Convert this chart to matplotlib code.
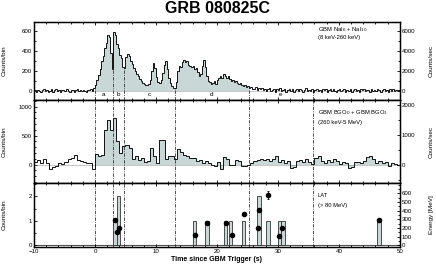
import numpy as np
import matplotlib
matplotlib.use("Agg")
import matplotlib.pyplot as plt
from matplotlib.ticker import MultipleLocator, FixedLocator

plt.rcParams["font.family"] = ["Liberation Sans", "DejaVu Sans"]

FILL = "#c9d8d6"
LINE = "#111111"
VLINE_STYLE = (0, (4, 1.5, 1, 1.5))

# interval boundaries (s) and their letters
bounds = [0.0, 2.9, 4.8, 13.1, 25.2, 35.7]
interval_names = ["a", "b", "c", "d", "e"]

# GBM NaI, 0.25 s bins from -10 s to 50 s (counts/bin)
nai_bin = 0.25
nai_pre = [5, -10, 12, 0, -15, 8, 20, -5, 10, -12,
           3, 15, -8, 6, 22, -3, 9, -14, 4, 11,
           -6, 18, 2, -9, 7, 13, -11, 5, 16, -4,
           8, -7, 12, 1, -13, 10, 4, 17, -2, 30]
nai_burst = [60, 110, 160, 220, 300, 350, 430, 480,
             560, 540, 380, 220, 590, 560, 470, 430,
             360, 330, 240, 230, 340, 370, 350, 300,
             270, 230, 200, 170, 150, 120, 100, 80,
             70, 60, 55, 70, 110, 200, 280, 230,
             140, 90, 75, 110, 180, 260, 300, 220,
             130, 80, 50, 30, 25, 90, 200, 250,
             240, 290, 310, 290, 300, 260, 250, 240,
             250, 220, 230, 190, 150, 170, 250, 310,
             240, 150, 100, 90, 70, 80, 100, 70,
             110, 130, 150, 130, 170, 150, 130, 150,
             120, 100, 110, 90, 100, 80, 70, 80,
             60, 50, 60, 40, 50, 30, 40, 20]
nai_post = [20, 35, 10, 25, 15, 30, 5, 20, -5, 15, 25, 0, 10, 20, -10, 15, 5, 25, -5, 10,
            18, -8, 12, 22, 0, 14, -12, 8, 20, -4, 16, 6, -10, 12, 24, -6, 10, 2, 18, -14,
            6, 20, -2, 12, -8, 16, 4, 22, -10, 8, 14, -4, 20, 0, -12, 10, 18, -6, 6, 14,
            -10, 12, 2, 20, -8, 8, 16, -2, 10, -14, 14, 4, 22, -6, 6, 12, -10, 18, 0, 8,
            -4, 16, 6, -12, 12, 20, -2, 8, -8, 14, 2, 18, -6, 10, 4, 12]

# GBM BGO, 0.5 s bins from -10 s to 50 s (counts/bin)
bgo_bin = 0.5
bgo_pre = [50, 70, 30, 90, 20, -70, -50, -30, 20, 10,
           40, 100, 110, 170, 80, 60, 40, 20, 30, -80]
bgo_burst = [190, 150, 160, 600, 770, 600, 810, 400, 200, 320,
             340, 280, 90, 140, 70, 110, 40, 60, 280, 150,
             30, 420, 420, 90, 150, 150, 90, 265, 210, 160,
             145, 115, 115, 60, 70, 30, 60, 20]
bgo_mid = [0, -30, 40, -80, 130, 90, 0, -10, 80, 60, -30, -20, 0, 20]
bgo_tail = [60, 80, 90, 70, 100, 60, 90, 140, 50, 80,
            20, 60, -60, -40, 60, 80, 50, 100, 40, 10,
            120, 140, 60, 30, 80, 40, 90, 60, 10, 50,
            30, -60, -40, 40, 50, 20, 60, 130, 140, 90,
            30, 60, 20, 40, -20, 30, 10, -10]

# LAT counts per bin and photon energies
lat_width = 0.55
lat_bin_start = [3.0, 3.55, 16.1, 18.1, 21.1, 22.0, 24.1, 26.6, 28.1, 30.0, 30.55, 46.3]
lat_counts = [1, 2, 1, 1, 1, 1, 1, 2, 1, 1, 1, 1]
lat_t = [3.33, 3.55, 3.98, 16.4, 18.3, 21.5, 22.45, 24.5, 26.7, 26.9, 28.4, 30.25, 30.7, 46.6]
lat_e = [298, 155, 205, 124, 257, 253, 122, 365, 195, 403, 578, 108, 199, 290]
lat_err = [12, 8, 10, 6, 12, 12, 6, 18, 10, 20, 45, 5, 10, 14]

nai = np.array(nai_pre + nai_burst + nai_post, dtype=float)
nai_edges = -10 + nai_bin * np.arange(len(nai) + 1)
bgo = np.array(bgo_pre + bgo_burst + bgo_mid + bgo_tail, dtype=float)
bgo_edges = -10 + bgo_bin * np.arange(len(bgo) + 1)

fig = plt.figure(figsize=(4.36, 2.66), dpi=100)
ax1 = fig.add_axes([0.078, 0.624, 0.839, 0.293])
ax2 = fig.add_axes([0.078, 0.312, 0.839, 0.312], sharex=ax1)
ax3 = fig.add_axes([0.078, 0.071, 0.839, 0.241], sharex=ax1)

TICK_FS = 4.4
LABEL_FS = 4.6


def style(ax, ylim, major, minor):
    ax.set_ylim(*ylim)
    ax.yaxis.set_major_locator(MultipleLocator(major))
    ax.yaxis.set_minor_locator(MultipleLocator(minor))
    ax.tick_params(axis="both", which="both", direction="in", width=0.6,
                   labelsize=TICK_FS, pad=1.5)
    ax.tick_params(axis="x", which="both", top=True, bottom=True)
    ax.tick_params(which="major", length=2.5)
    ax.tick_params(which="minor", length=1.4)
    for s in ax.spines.values():
        s.set_linewidth(1.0)
    ax.set_ylabel("Counts/bin", fontsize=LABEL_FS)
    ax.yaxis.set_label_coords(-0.074, 0.5)


def style_right(axr, ylim, ticks, minor, label):
    axr.set_ylim(*ylim)
    axr.yaxis.set_major_locator(FixedLocator(ticks))
    axr.yaxis.set_minor_locator(MultipleLocator(minor))
    axr.tick_params(axis="y", which="both", direction="in", width=0.6,
                    labelsize=TICK_FS, pad=1.5)
    axr.tick_params(which="major", length=2.5)
    axr.tick_params(which="minor", length=1.4)
    axr.set_ylabel(label, fontsize=LABEL_FS)
    axr.yaxis.set_label_coords(1.079, 0.5)


# --- panel 1: NaI
i0 = int(round((0 - nai_edges[0]) / nai_bin))
i1 = int(round((bounds[4] - nai_edges[0]) / nai_bin))
ax1.stairs(nai[i0:i1], nai_edges[i0:i1 + 1], fill=True, color=FILL, lw=0, zorder=1)
ax1.axhline(0, color="#777777", ls=(0, (1.2, 1.2)), lw=0.6, zorder=2)
ax1.stairs(nai, nai_edges, color=LINE, lw=0.7, zorder=3)
for b in bounds:
    k = np.searchsorted(nai_edges, b, side="right") - 1
    ax1.vlines(b, -93, max(nai[k], 0), colors="#333333", lw=0.6,
               linestyles=[VLINE_STYLE], zorder=2)
for name, lo, hi in zip(interval_names, bounds[:-1], bounds[1:]):
    ax1.text((lo + hi) / 2, 0.065, name, transform=ax1.get_xaxis_transform(),
             ha="center", va="center", fontsize=4.6)
style(ax1, (-93, 694), 200, 100)
ax1.text(0.776, 0.91, r"GBM NaI$_6$ + NaI$_{10}$", transform=ax1.transAxes,
         fontsize=4.2, va="center")
ax1.text(0.776, 0.80, "(8 keV-260 keV)", transform=ax1.transAxes,
         fontsize=4.2, va="center")
ax1r = ax1.twinx()
style_right(ax1r, (-930, 6940), [0, 2000, 4000, 6000], 1000, "Counts/sec")

# --- panel 2: BGO
j0 = int(round((0 - bgo_edges[0]) / bgo_bin))
ax2.stairs(bgo[j0:], bgo_edges[j0:], fill=True, color=FILL, lw=0, zorder=1)
ax2.axhline(0, color="#777777", ls=(0, (1.2, 1.2)), lw=0.6, zorder=2)
ax2.stairs(bgo, bgo_edges, color=LINE, lw=0.7, zorder=3)
for b in bounds:
    ax2.axvline(b, color="#333333", lw=0.6, ls=VLINE_STYLE, zorder=2)
style(ax2, (-320, 1115), 500, 100)
ax2.text(0.776, 0.845, r"GBM BGO$_0$ + GBM BGO$_1$", transform=ax2.transAxes,
         fontsize=4.2, va="center")
ax2.text(0.776, 0.735, "(260 keV-5 MeV)", transform=ax2.transAxes,
         fontsize=4.2, va="center")
ax2r = ax2.twinx()
style_right(ax2r, (-610, 2170), [0, 1000, 2000], 500, "Counts/sec")

# --- panel 3: LAT
ax3.axhline(0, color="#555555", lw=0.8, zorder=1)
ax3.bar(lat_bin_start, lat_counts, width=lat_width, align="edge",
        color=FILL, edgecolor="#333333", lw=0.6, zorder=2)
for b in bounds:
    ax3.axvline(b, color="#333333", lw=0.6, ls=VLINE_STYLE, zorder=1)
style(ax3, (-0.08, 2.55), 1, 0.5)
ax3.text(0.776, 0.81, "LAT", transform=ax3.transAxes, fontsize=4.2, va="center")
ax3.text(0.776, 0.655, "(> 80 MeV)", transform=ax3.transAxes, fontsize=4.2, va="center")
ax3r = ax3.twinx()
ax3r.errorbar(lat_t, lat_e, yerr=lat_err, fmt="o", color="k", ms=3,
              elinewidth=0.6, capsize=1, capthick=0.6, zorder=4)
style_right(ax3r, (-20, 719), [0, 100, 200, 300, 400, 500, 600], 50, "Energy [MeV]")

ax3.set_xlim(-10, 50)
ax3.xaxis.set_major_locator(MultipleLocator(10))
ax3.xaxis.set_minor_locator(MultipleLocator(2))
ax1.tick_params(axis="x", labelbottom=False)
ax2.tick_params(axis="x", labelbottom=False)
ax3.set_xlabel("Time since GBM Trigger (s)", fontsize=5, fontweight="bold", labelpad=1)

fig.text(0.498, 0.968, "GRB 080825C", ha="center", va="center",
         fontsize=11.5, fontweight="bold")

fig.savefig("out.png", dpi=100)
